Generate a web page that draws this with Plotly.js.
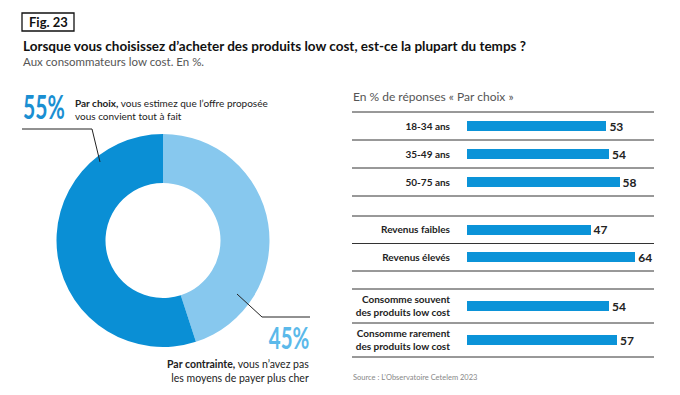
<!DOCTYPE html>
<html>
<head>
<meta charset="utf-8">
<script src="https://cdn.plot.ly/plotly-3.0.1.min.js"></script>
<style>html,body{margin:0;padding:0;background:#fff;}#chart{width:680px;height:395px;}</style>
</head>
<body>
<div id="chart"></div>
<script>
// ---- Data ----
const pieLabels = ['Par contrainte', 'Par choix'];
const pieValues = [45, 55];

const ageCats = ['18-34 ans', '35-49 ans', '50-75 ans'];
const ageValues = [53, 54, 58];

const revCats = ['Revenus faibles', 'Revenus élevés'];
const revValues = [47, 64];

const consoCats = ['Consomme souvent<br>des produits low cost', 'Consomme rarement<br>des produits low cost'];
const consoValues = [54, 57];

// ---- Helpers (pixel -> paper) ----
const W = 680, H = 395;
const px = x => x / W;
const py = y => 1 - y / H;

const DARK = '#0a8fd5';
const LIGHT = '#87c8ee';
const BAR = '#0b93d8';
const FONT = 'Lato, "Open Sans", sans-serif';

function barTrace(cats, vals, yaxis, width) {
  return {
    type: 'bar', orientation: 'h', x: vals, y: cats, xaxis: 'x', yaxis: yaxis,
    marker: {color: BAR, line: {width: 0}}, width: width,
    text: vals.map(String), textposition: 'outside', cliponaxis: false, constraintext: 'none',
    textfont: {family: FONT, size: 12, color: '#222', weight: 'bold'},
    hoverinfo: 'none', showlegend: false
  };
}

const traces = [
  {
    type: 'pie', labels: pieLabels, values: pieValues, sort: false,
    direction: 'clockwise', rotation: 0, hole: 0.54,
    marker: {colors: [LIGHT, DARK], line: {width: 0}},
    textinfo: 'none', hoverinfo: 'none', showlegend: false,
    domain: {x: [px(56), px(270)], y: [py(347), py(134)]}
  },
  barTrace(ageCats, ageValues, 'y', 0.36),
  barTrace(revCats, revValues, 'y2', 0.36),
  barTrace(consoCats, consoValues, 'y3', 0.29)
];

function yax(top, bottom) {
  return {
    type: 'category', autorange: 'reversed', domain: [py(bottom), py(top)], anchor: 'x',
    showgrid: false, zeroline: false, showline: false,
    ticks: 'outside', ticklen: 14, tickcolor: 'rgba(0,0,0,0)',
    tickfont: {family: FONT, size: 10, color: '#222', weight: 'bold'}, fixedrange: true
  };
}

// separator lines
const shapes = [];
function seps(yref, n) {
  for (let k = 0; k <= n; k++) {
    shapes.push({type: 'line', xref: 'paper', yref: yref + ' domain', x0: px(352), x1: px(654), y0: k / n, y1: k / n,
      line: {color: '#333', width: 1}});
  }
}
seps('y', 3); seps('y2', 2); seps('y3', 2);

// Fig box
shapes.push({type: 'rect', xref: 'paper', yref: 'paper', x0: px(22), x1: px(74), y0: py(31), y1: py(13),
  line: {color: '#111', width: 1.3}});
// leader lines
shapes.push({type: 'path', xref: 'paper', yref: 'paper',
  path: `M ${px(22)} ${py(129)} L ${px(92)} ${py(129)} L ${px(100)} ${py(162)}`, line: {color: '#222', width: 1}});
shapes.push({type: 'path', xref: 'paper', yref: 'paper',
  path: `M ${px(237)} ${py(294)} L ${px(262)} ${py(317)} L ${px(310)} ${py(317)}`, line: {color: '#222', width: 1}});

const annotations = [
  {text: '<b>Fig. 23</b>', x: px(48), y: py(22), xanchor: 'center', yanchor: 'middle', font: {family: FONT, size: 13, color: '#111'}},
  {text: '<b>Lorsque vous choisissez d’acheter des produits low cost, est-ce la plupart du temps ?</b>', x: px(21), y: py(46),
    xanchor: 'left', yanchor: 'middle', font: {family: FONT, size: 13.5, color: '#111'}},
  {text: 'Aux consommateurs low cost. En %.', x: px(21), y: py(62), xanchor: 'left', yanchor: 'middle',
    font: {family: FONT, size: 11.5, color: '#555'}},
  {text: '<b>55%</b>', x: px(21), y: py(106), xanchor: 'left', yanchor: 'middle', font: {family: FONT, size: 32, color: '#1a8fd2'}},
  {text: '<b>Par choix,</b> vous estimez que l’offre proposée<br>vous convient tout à fait', x: px(73), y: py(109),
    xanchor: 'left', yanchor: 'middle', align: 'left', font: {family: FONT, size: 10, color: '#222'}},
  {text: '<b>45%</b>', x: px(311), y: py(337), xanchor: 'right', yanchor: 'middle', font: {family: FONT, size: 31, color: '#5bb9ea'}},
  {text: '<b>Par contrainte,</b> vous n’avez pas<br>les moyens de payer plus cher', x: px(311), y: py(371),
    xanchor: 'right', yanchor: 'middle', align: 'right', font: {family: FONT, size: 10.5, color: '#222'}},
  {text: 'En % de réponses « Par choix »', x: px(351), y: py(97), xanchor: 'left', yanchor: 'middle',
    font: {family: FONT, size: 12, color: '#555'}},
  {text: 'Source : L’Observatoire Cetelem 2023', x: px(351), y: py(377), xanchor: 'left', yanchor: 'middle',
    font: {family: FONT, size: 7.5, color: '#888'}}
].map(a => Object.assign({xref: 'paper', yref: 'paper', showarrow: false}, a));

const layout = {
  width: W, height: H, margin: {l: 0, r: 0, t: 0, b: 0},
  paper_bgcolor: '#fff', plot_bgcolor: 'rgba(0,0,0,0)',
  font: {family: FONT},
  xaxis: {domain: [px(467), 1], range: [0, (W - 467) / 2.63], visible: false, fixedrange: true},
  yaxis: yax(112, 196),
  yaxis2: yax(216, 271),
  yaxis3: yax(289, 357),
  shapes: shapes,
  annotations: annotations,
  bargap: 0
};

function condense() {
  document.querySelectorAll('.annotation-text').forEach(t => {
    const s = t.textContent;
    if (s === '55%' || s === '45%') {
      t.style.transformBox = 'fill-box';
      t.style.transformOrigin = s === '55%' ? 'left center' : 'right center';
      t.style.transform = 'scaleX(0.66)';
    }
  });
}

Plotly.newPlot('chart', traces, layout, {displayModeBar: false, staticPlot: true}).then(condense);
</script>
</body>
</html>
